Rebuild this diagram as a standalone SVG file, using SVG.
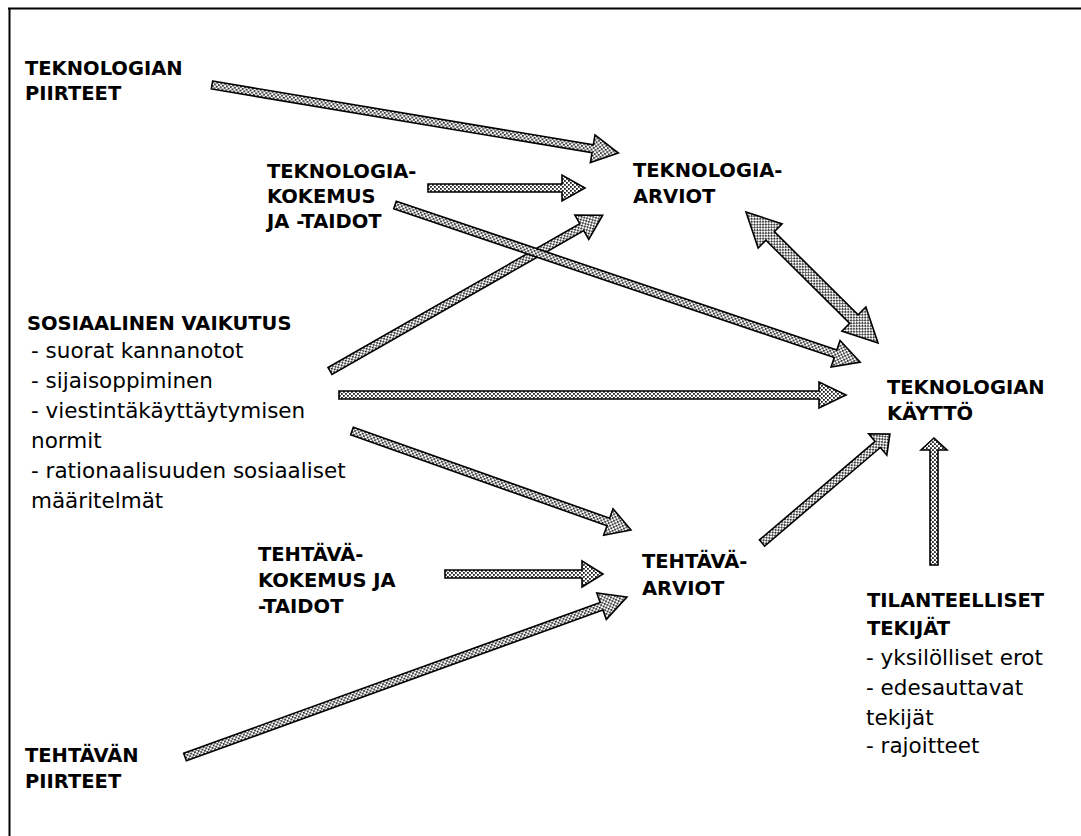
<svg xmlns="http://www.w3.org/2000/svg" width="1081" height="836" viewBox="0 0 1081 836">
<defs>
<pattern id="dots" width="4" height="4" patternUnits="userSpaceOnUse">
<rect width="4" height="4" fill="#ffffff"/>
<rect x="0" y="0" width="1.8" height="1.8" fill="#222"/>
<rect x="2" y="2" width="1.8" height="1.8" fill="#222"/>
</pattern>
<style>
.b{font-family:"DejaVu Sans","Verdana",sans-serif;font-weight:bold;font-size:19.5px;fill:#000}
.r{font-family:"DejaVu Sans","Verdana",sans-serif;font-size:21.5px;fill:#000}
.ar{fill:url(#dots);stroke:#000;stroke-width:1.6;stroke-linejoin:miter}
.frame{stroke:#000;stroke-width:2;fill:none}
</style>
</defs>
<rect width="1081" height="836" fill="#fff"/>
<path class="frame" d="M8,8.5 H1081 M9.5,8 V836"/>

<g id="connectors">
<path class="ar" transform="translate(212,85) rotate(9.51)" d="M0,-4 L386,-4 L386,-14 L412,0 L386,14 L386,4 L0,4 Z"/>
<path class="ar" transform="translate(428,188) rotate(0)" d="M0,-4 L134,-4 L134,-13 L157,0 L134,13 L134,4 L0,4 Z"/>
<path class="ar" transform="translate(330,371) rotate(-29.74)" d="M0,-4 L290,-4 L290,-14 L314,0 L290,14 L290,4 L0,4 Z"/>
<path class="ar" transform="translate(395,205) rotate(18.66)" d="M0,-4 L465,-4 L465,-14 L491,0 L465,14 L465,4 L0,4 Z"/>
<path class="ar" transform="translate(746,212) rotate(44.78)" d="M0,0 L34,-17 L34,-6 L152,-6 L152,-17 L186,0 L152,17 L152,6 L34,6 L34,17 Z"/>
<path class="ar" transform="translate(339,395) rotate(0)" d="M0,-4 L480,-4 L480,-13 L507,0 L480,13 L480,4 L0,4 Z"/>
<path class="ar" transform="translate(352,431) rotate(19.54)" d="M0,-4 L272,-4 L272,-14 L296,0 L272,14 L272,4 L0,4 Z"/>
<path class="ar" transform="translate(445,574) rotate(0)" d="M0,-4 L137,-4 L137,-13 L158,0 L137,13 L137,4 L0,4 Z"/>
<path class="ar" transform="translate(185,757) rotate(-19.9)" d="M0,-4 L443,-4 L443,-14 L470,0 L443,14 L443,4 L0,4 Z"/>
<path class="ar" transform="translate(762,543) rotate(-40.41)" d="M0,-4 L152,-4 L152,-14 L168,0 L152,14 L152,4 L0,4 Z"/>
<path class="ar" transform="translate(934,565) rotate(-90)" d="M0,-4 L115,-4 L115,-13 L127,0 L115,13 L115,4 L0,4 Z"/>
</g>

<g id="teknologian-piirteet">
<text class="b" x="25" y="75">TEKNOLOGIAN</text>
<text class="b" x="25" y="100">PIIRTEET</text>
</g>
<g id="teknologia-kokemus">
<text class="b" x="267" y="178">TEKNOLOGIA-</text>
<text class="b" x="267" y="203">KOKEMUS</text>
<text class="b" x="267" y="228">JA -TAIDOT</text>
</g>
<g id="teknologia-arviot">
<text class="b" x="633" y="177">TEKNOLOGIA-</text>
<text class="b" x="633" y="203">ARVIOT</text>
</g>
<g id="sosiaalinen-vaikutus">
<text class="b" x="27" y="330">SOSIAALINEN VAIKUTUS</text>
<text class="r" x="31" y="358">- suorat kannanotot</text>
<text class="r" x="31" y="388">- sijaisoppiminen</text>
<text class="r" x="31" y="418">- viestintäkäyttäytymisen</text>
<text class="r" x="31" y="448">normit</text>
<text class="r" x="31" y="478">- rationaalisuuden sosiaaliset</text>
<text class="r" x="31" y="508">määritelmät</text>
</g>
<g id="teknologian-kaytto">
<text class="b" x="887" y="394">TEKNOLOGIAN</text>
<text class="b" x="887" y="420">KÄYTTÖ</text>
</g>
<g id="tehtava-kokemus">
<text class="b" x="258" y="561">TEHTÄVÄ-</text>
<text class="b" x="258" y="587">KOKEMUS JA</text>
<text class="b" x="258" y="613">-TAIDOT</text>
</g>
<g id="tehtava-arviot">
<text class="b" x="642" y="568">TEHTÄVÄ-</text>
<text class="b" x="642" y="595">ARVIOT</text>
</g>
<g id="tilannetekijat">
<text class="b" x="867" y="607">TILANTEELLISET</text>
<text class="b" x="867" y="635">TEKIJÄT</text>
<text class="r" x="866" y="665">- yksilölliset erot</text>
<text class="r" x="866" y="695">- edesauttavat</text>
<text class="r" x="866" y="725">tekijät</text>
<text class="r" x="866" y="753">- rajoitteet</text>
</g>
<g id="tehtavan-piirteet">
<text class="b" x="25" y="762">TEHTÄVÄN</text>
<text class="b" x="25" y="788">PIIRTEET</text>
</g>
</svg>
